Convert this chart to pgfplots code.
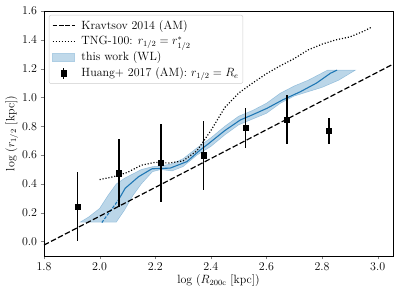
\documentclass[border=0pt]{standalone}
\usepackage{pgfplots}
\pgfplotsset{compat=1.18}
\definecolor{mplblue}{RGB}{31,119,180}
\begin{document}
\begin{tikzpicture}
\begin{axis}[
  font=\large,
  scale only axis,
  width=349bp, height=245bp,
  xmin=1.8, xmax=3.055, ymin=-0.1, ymax=1.6,
  xtick={1.8,2.0,2.2,2.4,2.6,2.8,3.0},
  ytick={0,0.2,0.4,0.6,0.8,1.0,1.2,1.4,1.6},
  xticklabel style={/pgf/number format/.cd,fixed,fixed zerofill,precision=1},
  yticklabel style={/pgf/number format/.cd,fixed,fixed zerofill,precision=1},
  tick align=outside, tick pos=left,
  major tick length=3.5pt,
  axis line style={line width=0.6pt},
  xlabel={log $(R_{\rm 200c}$ [kpc]$)$},
  ylabel={log $(r_{1/2}$ [kpc]$)$},
  xlabel style={yshift=3pt},
  ylabel style={yshift=-3pt},
  legend style={at={(0.014,0.984)}, anchor=north west, draw=black!20, rounded corners=2pt,
    font=\large, row sep=3.2pt, inner xsep=3bp, inner ysep=4bp, cells={anchor=west},
    nodes={inner sep=1.2bp},
    /tikz/every odd column/.append style={column sep=5bp}},
  legend cell align=left,
]
\addlegendimage{legend image code/.code={
  \draw[black, line width=1.2pt, dash pattern=on 4.5pt off 1.9pt] (0bp,0bp) -- (22bp,0bp);}}
\addlegendentry{Kravtsov 2014 (AM)}
\addlegendimage{legend image code/.code={
  \draw[black, line width=1.2pt, dash pattern=on 1.1pt off 1.9pt] (0bp,0bp) -- (22bp,0bp);}}
\addlegendentry{TNG-100: $r_{1/2}=r^{*}_{1/2}$}
\addlegendimage{legend image code/.code={
  \path[fill=mplblue!28, draw=mplblue!36, line width=0.4pt, sharp corners] (0bp,-4bp) rectangle (22bp,4bp);}}
\addlegendentry{this work (WL)}
\addlegendimage{legend image code/.code={
  \draw[black, line width=1.3pt] (11bp,-5.5bp) -- (11bp,5.5bp);
  \fill[black, sharp corners] (11bp,0bp) +(-2.6pt,-3.2pt) rectangle +(2.6pt,3.2pt);}}
\addlegendentry{Huang+ 2017 (AM): $r_{1/2}=R_e$}

% band (this work)
\addplot[fill=mplblue, fill opacity=0.3, draw=mplblue, draw opacity=0.35, line width=0.5pt, forget plot] coordinates {
(1.93,0.135) (1.96,0.135) (2.00,0.135) (2.03,0.135) (2.06,0.135) (2.09,0.22) (2.12,0.32) (2.15,0.40)
(2.19,0.485) (2.22,0.50) (2.26,0.49) (2.30,0.52) (2.35,0.60) (2.40,0.66) (2.45,0.74) (2.50,0.81)
(2.55,0.85) (2.60,0.89) (2.65,0.96) (2.70,1.01) (2.75,1.04) (2.80,1.07) (2.86,1.12) (2.92,1.19)
(2.86,1.19) (2.82,1.19) (2.80,1.17) (2.75,1.12) (2.70,1.08) (2.65,1.03) (2.60,0.96) (2.55,0.91)
(2.50,0.87) (2.45,0.80) (2.40,0.72) (2.35,0.65) (2.30,0.575) (2.26,0.54) (2.22,0.525) (2.19,0.52)
(2.15,0.50) (2.12,0.47) (2.09,0.44) (2.06,0.40) (2.03,0.32) (2.00,0.23) (1.96,0.17) (1.93,0.135)
} -- cycle;

% this work line
\addplot[mplblue, line width=1.1pt, dash pattern=on 3pt off 1.5pt, forget plot] coordinates {
(2.008,0.132) (2.068,0.29)
};
\addplot[mplblue, line width=1.1pt, forget plot] coordinates {
(2.068,0.29) (2.092,0.37) (2.14,0.45) (2.188,0.505) (2.254,0.51) (2.314,0.555) (2.362,0.636)
(2.392,0.68) (2.45,0.77) (2.506,0.844) (2.55,0.88) (2.602,0.925) (2.66,0.985) (2.722,1.04)
(2.78,1.10) (2.83,1.168) (2.854,1.19)
};

% Kravtsov 2014
\addplot[black, line width=1.2pt, dash pattern=on 5.5pt off 2.4pt, forget plot] coordinates {
(1.8,-0.024) (3.055,1.231)
};

% TNG-100
\addplot[black, line width=1.2pt, dash pattern=on 1.1pt off 1.9pt, forget plot] coordinates {
(2.00,0.43) (2.05,0.45) (2.10,0.48) (2.15,0.53) (2.20,0.55) (2.25,0.545) (2.30,0.56)
(2.35,0.63) (2.40,0.77) (2.45,0.93) (2.50,1.03) (2.55,1.10) (2.60,1.165) (2.65,1.22)
(2.70,1.27) (2.75,1.33) (2.80,1.37) (2.85,1.40) (2.90,1.42) (2.95,1.46) (2.98,1.49)
};

% Huang+ 2017
\addplot[black, only marks, mark=square*, mark size=2.6pt, forget plot,
  error bars/.cd, y dir=both, y explicit, error bar style={line width=1.4pt}, error mark=none]
  coordinates {
(1.921,0.243) +- (0,0.237)
(2.070,0.474) +- (0,0.237)
(2.221,0.548) +- (0,0.27)
(2.374,0.600) +- (0,0.24)
(2.524,0.790) +- (0,0.14)
(2.674,0.844) +- (0,0.17)
(2.825,0.768) +- (0,0.09)
};
\end{axis}
\path ([xshift=-44bp,yshift=-42bp]current axis.south west) rectangle ([xshift=6bp,yshift=11bp]current axis.north east);
\end{tikzpicture}
\end{document}
